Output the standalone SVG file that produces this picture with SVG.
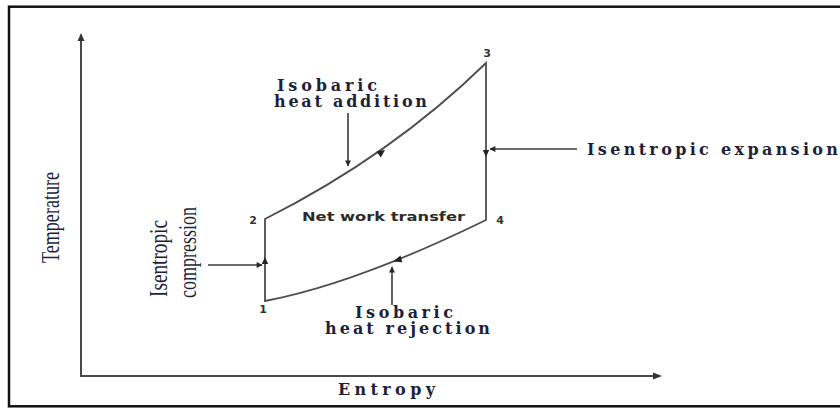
<svg xmlns="http://www.w3.org/2000/svg" width="840" height="408" viewBox="0 0 840 408">
<defs>
<style>
.axis{stroke:#4a4a4a;stroke-width:2;fill:none}
.cyc{stroke:#4d4d4d;stroke-width:1.8;fill:none}
.lbl{stroke:#3a3a3a;stroke-width:1.6;fill:none}
.serif{font-family:"DejaVu Serif","Liberation Serif",serif;fill:#1e1f3c;font-weight:bold;font-size:16px}
.cond{font-family:"Liberation Serif","Times New Roman",serif;fill:#1e1f3c}
.num{font-family:"DejaVu Sans","Liberation Sans",sans-serif;font-weight:bold;font-size:11px;fill:#333;text-anchor:middle}
.tri{fill:#222}
</style>
<marker id="ah" viewBox="0 0 10 10" refX="9" refY="5" markerWidth="8" markerHeight="6" markerUnits="userSpaceOnUse" orient="auto">
<path d="M0,0 L10,5 L0,10 Z" fill="#2a2a2a"/>
</marker>
</defs>
<rect x="0" y="0" width="840" height="408" fill="#fff"/>
<rect x="9" y="6.7" width="850" height="399.6" fill="none" stroke="#111" stroke-width="2.5"/>

<g id="axes">
<path class="axis" d="M81,376 V40"/>
<path d="M81,33 L77.5,41 L84.5,41 Z" fill="#333"/>
<path class="axis" d="M80,376 H654"/>
<path d="M662,376 L653,372.5 L653,379.5 Z" fill="#333"/>
<text class="cond" font-size="26" textLength="91" lengthAdjust="spacingAndGlyphs" transform="translate(59,263) rotate(-90)">Temperature</text>
<text class="serif" x="338" y="395" font-size="17" textLength="97" lengthAdjust="spacing">Entropy</text>
</g>

<g id="cycle">
<path class="cyc" d="M265,301 V219 Q392,155 486,63 V220 Q355,284 265,301 Z"/>
</g>

<g id="point-arrows">
<path class="tri" d="M265,257 L261.8,264 L268.2,264 Z"/>
<path class="tri" d="M486,157 L482.8,150 L489.2,150 Z"/>
<path class="tri" d="M385,150 L376.5,151.5 L380.8,157.5 Z"/>
<path class="tri" d="M393,261.5 L400.5,255.5 L402.3,262.3 Z"/>
</g>

<g id="p1"><text class="num" x="263" y="313">1</text></g>
<g id="p2"><text class="num" x="253" y="224">2</text></g>
<g id="p3"><text class="num" x="487" y="57">3</text></g>
<g id="p4"><text class="num" x="500" y="224">4</text></g>

<g id="net-work">
<text x="302" y="221" font-family="'DejaVu Sans','Liberation Sans',sans-serif" font-weight="bold" font-size="12.5" fill="#2a2a2a" textLength="163" lengthAdjust="spacingAndGlyphs">Net work transfer</text>
</g>

<g id="heat-addition">
<text class="serif" x="277" y="91" textLength="100" lengthAdjust="spacing">Isobaric</text>
<text class="serif" x="274" y="107" textLength="153" lengthAdjust="spacing">heat addition</text>
</g>

<g id="isentropic-expansion">
<text class="serif" x="587" y="155" font-size="17" textLength="251" lengthAdjust="spacing">Isentropic expansion</text>
</g>

<g id="isentropic-compression">
<text class="cond" font-size="26" textLength="77" lengthAdjust="spacingAndGlyphs" transform="translate(167,297) rotate(-90)">Isentropic</text>
<text class="cond" font-size="26" textLength="91" lengthAdjust="spacingAndGlyphs" transform="translate(196,298) rotate(-90)">compression</text>
</g>

<g id="heat-rejection">
<text class="serif" x="355" y="318" textLength="98" lengthAdjust="spacing">Isobaric</text>
<text class="serif" x="325" y="334" textLength="165" lengthAdjust="spacing">heat rejection</text>
</g>

<g id="connectors">
<line class="lbl" x1="348" y1="113" x2="348" y2="166" marker-end="url(#ah)"/>
<line class="lbl" x1="577" y1="149" x2="490" y2="149" marker-end="url(#ah)"/>
<line class="lbl" x1="208" y1="265" x2="262" y2="265" marker-end="url(#ah)"/>
<line class="lbl" x1="392" y1="305" x2="392" y2="267" marker-end="url(#ah)"/>
</g>
</svg>
